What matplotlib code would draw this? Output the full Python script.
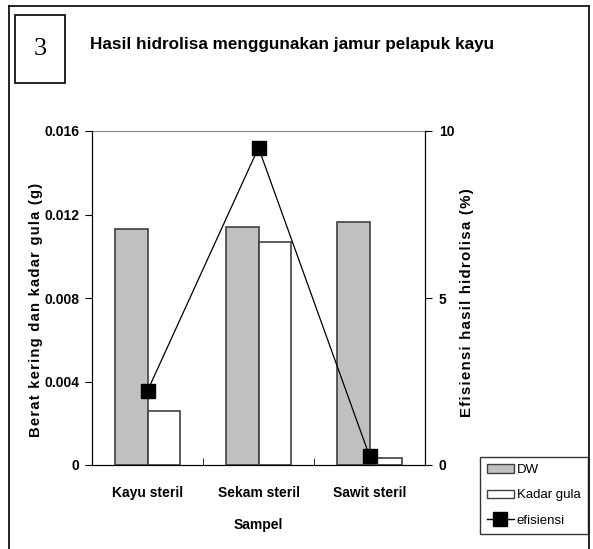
import matplotlib
matplotlib.use("Agg")
import matplotlib.pyplot as plt
from matplotlib.patches import Rectangle, Patch
from matplotlib.lines import Line2D
import numpy as np

# data
sampel = ["Kayu steril", "Sekam steril", "Sawit steril"]
berat_kering = [0.01131, 0.01142, 0.01166]   # DW (g)
kadar_gula = [0.00259, 0.01070, 0.00034]     # (g)
efisiensi = [2.22, 9.50, 0.27]               # (%)

yticks_left = [0, 0.004, 0.008, 0.012, 0.016]
yticks_right = [0, 5, 10]

plt.rcParams['font.family'] = ['Liberation Sans', 'DejaVu Sans']

fig = plt.figure(figsize=(5.93, 5.49), dpi=100)
W, H = 593, 549

def fx(px):
    return px / W

def fy(py):
    return 1 - py / H

def spaced(s):
    # letters spread out a bit, like the original axis titles
    return "\u200a".join(s)

# outer frame
fig.add_artist(Line2D([fx(9), fx(9)], [fy(6), 0], transform=fig.transFigure, color='black', lw=1.2))
fig.add_artist(Line2D([fx(9), fx(589)], [fy(6), fy(6)], transform=fig.transFigure, color='black', lw=1.2))
fig.add_artist(Line2D([fx(589), fx(589)], [fy(6), 0], transform=fig.transFigure, color='black', lw=1.2))

# numbered box
fig.add_artist(Rectangle((fx(15), fy(83)), fx(50), 68 / H, transform=fig.transFigure,
                         fill=False, edgecolor='black', lw=1.2))
fig.text(fx(40), fy(49), "3", family='Liberation Serif', fontsize=19, ha='center', va='center')
fig.text(fx(90), fy(45), "Hasil hidrolisa menggunakan jamur pelapuk kayu", fontsize=12.3,
         fontweight='bold', ha='left', va='center')

ax = fig.add_axes([fx(92), fy(465), fx(333), 334 / H])
x = np.arange(len(sampel))
bw = 0.29
ax.bar(x - bw / 2, berat_kering, bw, color='#c0c0c0', edgecolor='#404040', lw=1.2, label='DW')
ax.bar(x + bw / 2, kadar_gula, bw, color='white', edgecolor='#404040', lw=1.2, label='Kadar gula')
ax.set_xlim(-0.5, 2.5)
ax.set_ylim(0, 0.016)
ax.set_yticks(yticks_left)
ax.set_yticklabels(["0" if v == 0 else f"{v:.3f}" for v in yticks_left], fontweight='bold', fontsize=10)
ax.set_xticks(x)
ax.set_xticklabels(sampel, fontweight='bold', fontsize=10)
ax.tick_params(axis='x', which='major', length=0, pad=15)
ax.set_xticks([0.5, 1.5], minor=True)
ax.tick_params(axis='x', which='minor', direction='in', length=5)
ax.tick_params(axis='y', direction='out', length=5, pad=4)
ax.set_xlabel("Sampel", fontweight='bold', fontsize=10, labelpad=13)
ax.set_ylabel(spaced("Berat kering dan kadar gula (g)"), fontweight='bold', fontsize=10.6)
ax.yaxis.set_label_coords(-0.147, 0.464)
ax.spines['top'].set_color('#808080')
for s in ['left', 'bottom', 'right']:
    ax.spines[s].set_color('black')

ax2 = ax.twinx()
ax2.plot(x, efisiensi, color='black', lw=0.9, marker='s', markersize=10, label='efisiensi')
ax2.set_ylim(0, 10)
ax2.set_yticks(yticks_right)
ax2.set_yticklabels([str(v) for v in yticks_right], fontweight='bold', fontsize=10)
ax2.tick_params(axis='y', direction='out', length=5, pad=5)
ax2.set_ylabel(spaced("Efisiensi hasil hidrolisa (%)"), fontweight='bold', fontsize=10.8)
ax2.yaxis.set_label_coords(1.105, 0.487)
ax2.spines['top'].set_visible(False)

handles = [Patch(facecolor='#c0c0c0', edgecolor='#404040'),
           Patch(facecolor='white', edgecolor='#404040'),
           Line2D([], [], color='black', lw=1, marker='s', markersize=10)]
leg = fig.legend(handles, ['DW', 'Kadar gula', 'efisiensi'], loc='upper left',
                 bbox_to_anchor=(fx(480), fy(457)), fontsize=9.5, frameon=True, fancybox=False,
                 edgecolor='black', handlelength=2.0, handleheight=0.6, handletextpad=0.25,
                 borderpad=0.55, labelspacing=1.0, borderaxespad=0)
leg.get_frame().set_linewidth(1)

fig.savefig("out.png", dpi=100)
